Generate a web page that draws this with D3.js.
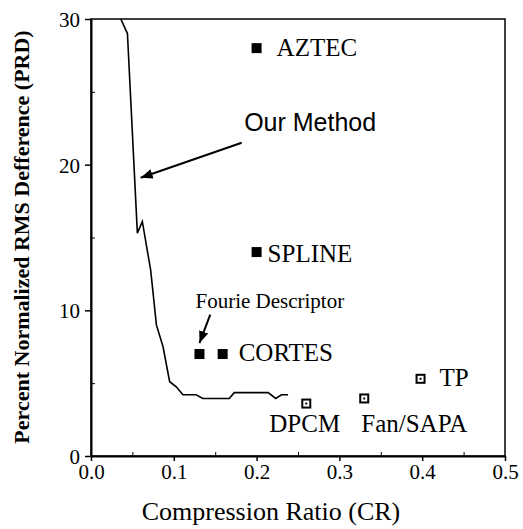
<!DOCTYPE html>
<html>
<head>
<meta charset="utf-8">
<script src="https://cdn.jsdelivr.net/npm/d3@7"></script>
<style>
  body { margin: 0; background: #fff; }
  text { font-family: "Liberation Serif", "Times New Roman", serif; fill: #000; }
</style>
</head>
<body>
<script>
// data
var lineCR  = [0.036, 0.044, 0.056, 0.062, 0.068, 0.072, 0.079, 0.087, 0.095, 0.103,
               0.111, 0.127, 0.135, 0.167, 0.173, 0.214, 0.223, 0.230, 0.238];
var linePRD = [30, 29.0, 15.3, 16.1, 14.1, 12.8, 9.0, 7.5, 5.1, 4.75,
               4.2, 4.2, 3.95, 3.95, 4.35, 4.35, 3.95, 4.2, 4.2];

var methods   = ["AZTEC", "SPLINE", "Fourie Descriptor", "CORTES", "DPCM", "Fan/SAPA", "TP"];
var methodCR  = [0.20, 0.20, 0.131, 0.159, 0.260, 0.330, 0.398];
var methodPRD = [28, 14, 7, 7, 3.6, 3.95, 5.3];
var methodFilled = [true, true, true, true, false, false, false];

var xTicks = [0, 0.1, 0.2, 0.3, 0.4, 0.5];
var yTicks = [0, 10, 20, 30];

// layout
var w = 523, h = 529;
var mLeft = 91, mRight = 505, mTop = 19, mBottom = 456;

// label offsets from the marker (px) and sizes
var labelDx = [20, 11, -4, 16, -37, -3, 19];
var labelDy = [8, 10, -46, 7, 28, 34, 7];
var labelSize = [25, 25, 21, 25, 25, 25, 25];

var xScale = d3.scaleLinear().domain([0, 0.5]).range([mLeft, mRight]);
var yScale = d3.scaleLinear().domain([0, 30]).range([mBottom, mTop]);

var svg = d3.select("body")
            .append("svg")
            .attr("width", w)
            .attr("height", h);

// frame
svg.append("rect")
   .attr("x", mLeft).attr("y", mTop)
   .attr("width", mRight - mLeft).attr("height", mBottom - mTop)
   .attr("fill", "none").attr("stroke", "#000").attr("stroke-width", 1.5);

// axes
var xAxis = d3.axisBottom(xScale).tickValues(xTicks).tickFormat(d3.format(".1f")).tickSize(5).tickSizeOuter(0);
var yAxis = d3.axisLeft(yScale).tickValues(yTicks).tickFormat(d3.format("d")).tickSize(6).tickSizeOuter(0);

var gx = svg.append("g").attr("transform", "translate(0," + mBottom + ")").call(xAxis);
var gy = svg.append("g").attr("transform", "translate(" + mLeft + ",0)").call(yAxis);

[gx, gy].forEach(function(g) {
  g.select(".domain").attr("stroke-width", 2);
  g.selectAll(".tick line").attr("stroke-width", 1.5);
  g.selectAll(".tick text")
   .attr("font-family", "Liberation Serif, serif")
   .attr("font-size", "21px");
});
gx.selectAll(".tick text").attr("dy", "0.95em").attr("y", 3);
gy.selectAll(".tick text").attr("x", -11).attr("dy", "0.35em");

// minor ticks, pointing inwards
var xMinor = d3.axisBottom(xScale).tickValues([0.05, 0.15, 0.25, 0.35, 0.45]).tickSize(-4).tickFormat("");
var yMinor = d3.axisLeft(yScale).tickValues([5, 15, 25]).tickSize(-4).tickFormat("");
svg.append("g").attr("transform", "translate(0," + mBottom + ")").call(xMinor)
   .call(function(g) { g.select(".domain").remove(); });
svg.append("g").attr("transform", "translate(" + mLeft + ",0)").call(yMinor)
   .call(function(g) { g.select(".domain").remove(); });

// Our Method curve
var line = d3.line()
             .x(function(d, i) { return xScale(lineCR[i]); })
             .y(function(d, i) { return yScale(linePRD[i]); });

svg.append("path")
   .datum(lineCR)
   .attr("d", line)
   .attr("fill", "none")
   .attr("stroke", "#000")
   .attr("stroke-width", 1.6);

// markers
var pts = svg.selectAll("g.pt")
   .data(methods)
   .enter()
   .append("g")
   .attr("class", "pt")
   .attr("transform", function(d, i) {
      return "translate(" + xScale(methodCR[i]) + "," + yScale(methodPRD[i]) + ")";
   });

pts.append("rect")
   .attr("x", function(d, i) { return methodFilled[i] ? -5 : -4; })
   .attr("y", function(d, i) { return methodFilled[i] ? -5 : -4; })
   .attr("width", function(d, i) { return methodFilled[i] ? 10 : 8; })
   .attr("height", function(d, i) { return methodFilled[i] ? 10 : 8; })
   .attr("fill", function(d, i) { return methodFilled[i] ? "#000" : "#fff"; })
   .attr("stroke", "#000")
   .attr("stroke-width", function(d, i) { return methodFilled[i] ? 0 : 2; });

pts.filter(function(d, i) { return !methodFilled[i]; })
   .append("rect")
   .attr("x", -1).attr("y", -1).attr("width", 2).attr("height", 2)
   .attr("fill", "#000");

pts.append("text")
   .text(function(d) { return d; })
   .attr("x", function(d, i) { return labelDx[i]; })
   .attr("y", function(d, i) { return labelDy[i]; })
   .attr("font-size", function(d, i) { return labelSize[i] + "px"; });

// arrows
svg.append("defs").append("marker")
   .attr("id", "head")
   .attr("viewBox", "0 0 10 10")
   .attr("refX", 10).attr("refY", 5)
   .attr("markerWidth", 6).attr("markerHeight", 6)
   .attr("markerUnits", "strokeWidth")
   .attr("orient", "auto")
   .append("path")
   .attr("d", "M0,1 L10,5 L0,9 z")
   .attr("fill", "#000");

var arrowFrom = [[0.182, 21.5], [0.144, 9.7]];
var arrowTo   = [[0.060, 19.1], [0.131, 7.75]];

svg.selectAll("line.arrow")
   .data(arrowFrom)
   .enter()
   .append("line")
   .attr("class", "arrow")
   .attr("x1", function(d) { return xScale(d[0]); })
   .attr("y1", function(d) { return yScale(d[1]); })
   .attr("x2", function(d, i) { return xScale(arrowTo[i][0]); })
   .attr("y2", function(d, i) { return yScale(arrowTo[i][1]); })
   .attr("stroke", "#000")
   .attr("stroke-width", 2)
   .attr("marker-end", "url(#head)");

svg.append("text")
   .text("Our Method")
   .attr("x", xScale(0.185)).attr("y", yScale(22.3))
   .style("font-family", "'Liberation Sans', Arial, sans-serif")
   .attr("font-size", "25px");

// axis titles
svg.append("text")
   .text("Compression Ratio (CR)")
   .attr("x", 271).attr("y", 520)
   .attr("text-anchor", "middle")
   .attr("font-size", "26px");

svg.append("text")
   .text("Percent Normalized RMS Defference (PRD)")
   .attr("transform", "translate(29," + 237 + ") rotate(-90)")
   .attr("text-anchor", "middle")
   .attr("font-weight", "bold")
   .attr("font-size", "22px");
</script>
</body>
</html>
